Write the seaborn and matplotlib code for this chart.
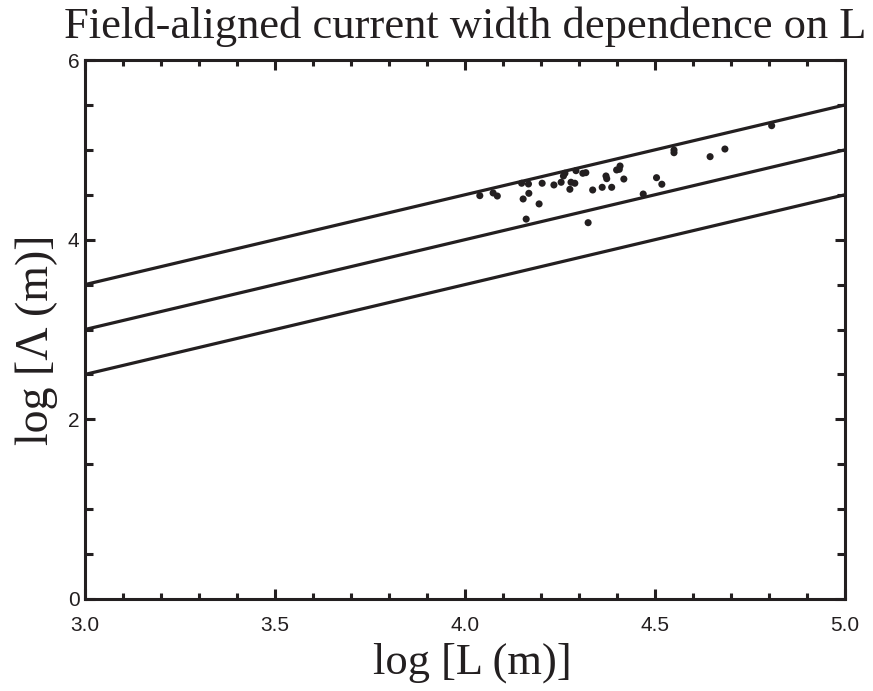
import numpy as np
import pandas as pd
import seaborn as sns
import matplotlib
matplotlib.use("Agg")
import matplotlib.pyplot as plt
from matplotlib.ticker import MultipleLocator

# Data
log_L = [4.039, 4.074, 4.085, 4.149, 4.167, 4.168, 4.153, 4.195, 4.161, 4.203,
         4.234, 4.253, 4.259, 4.263, 4.276, 4.279, 4.289, 4.292, 4.310, 4.318,
         4.324, 4.336, 4.361, 4.371, 4.373, 4.386, 4.399, 4.408, 4.406, 4.418,
         4.469, 4.504, 4.518, 4.550, 4.550, 4.645, 4.684, 4.807]
log_Lambda = [4.49, 4.52, 4.486, 4.628, 4.62, 4.516, 4.453, 4.398, 4.229, 4.628,
              4.609, 4.639, 4.709, 4.739, 4.561, 4.639, 4.628, 4.768, 4.739, 4.746,
              4.189, 4.553, 4.583, 4.709, 4.679, 4.583, 4.776, 4.820, 4.783, 4.675,
              4.508, 4.690, 4.617, 4.998, 4.968, 4.924, 5.009, 5.269]

line_x = [3.0, 5.0]
line_upper = [3.5, 5.5]
line_middle = [3.0, 5.0]
line_lower = [2.5, 4.5]

x_ticks = [3.0, 3.5, 4.0, 4.5, 5.0]
y_ticks = [0, 2, 4, 6]

sns.set_theme(style="ticks")
plt.rcParams['font.family'] = ['Liberation Sans', 'DejaVu Sans']

fig = plt.figure(figsize=(8.73, 6.91), dpi=100)
ax = fig.add_axes([85/873, 1 - 599/691, (845-85)/873, (599-60)/691])

ink = '#231f20'

lines_df = pd.DataFrame({
    'x': line_x * 3,
    'y': line_upper + line_middle + line_lower,
    'g': ['u', 'u', 'm', 'm', 'l', 'l'],
})
sns.lineplot(data=lines_df, x='x', y='y', units='g', estimator=None,
             color=ink, linewidth=2.3, ax=ax, legend=False)

pts = pd.DataFrame({'L': log_L, 'Lam': log_Lambda})
sns.scatterplot(data=pts, x='L', y='Lam', color=ink, s=26,
                edgecolor='none', ax=ax, zorder=3)

ax.set_xlim(3.0, 5.0)
ax.set_ylim(0, 6)
ax.set_xticks(x_ticks)
ax.set_xticklabels([f"{v:.1f}" for v in x_ticks])
ax.set_yticks(y_ticks)
ax.set_yticklabels([str(v) for v in y_ticks])
ax.xaxis.set_minor_locator(MultipleLocator(0.1))
ax.yaxis.set_minor_locator(MultipleLocator(0.5))

for sp in ax.spines.values():
    sp.set_visible(True)
    sp.set_linewidth(2.2)
    sp.set_color(ink)

ax.tick_params(which='major', direction='in', length=7, width=2.2,
               top=True, right=True, labelsize=15, colors=ink)
ax.tick_params(which='minor', direction='in', length=4, width=2.2,
               top=True, right=True, colors=ink)
ax.tick_params(axis='y', which='minor', length=6)
ax.tick_params(axis='x', which='major', pad=12)
ax.tick_params(axis='y', which='major', pad=4)

serif = ['Liberation Serif', 'DejaVu Serif']
ax.set_xlabel('log [L (m)]', fontsize=32, family=serif, color=ink)
ax.set_ylabel('log [Λ (m)]', fontsize=33, family=serif, color=ink)
ax.xaxis.set_label_coords(0.509, -0.08)
ax.yaxis.set_label_coords(-0.036, 0.48)
ax.set_title('Field-aligned current width dependence on L', fontsize=32,
             family=serif, color=ink, pad=16)

fig.savefig('out.png', dpi=100)
